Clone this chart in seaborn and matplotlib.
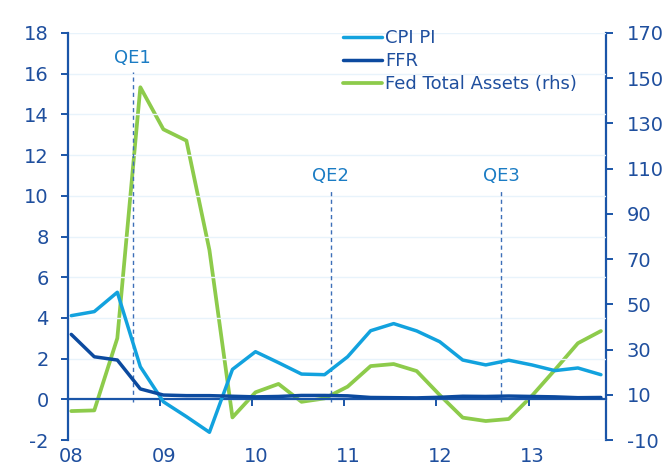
import numpy as np
import pandas as pd
import matplotlib
matplotlib.use("Agg")
import matplotlib.pyplot as plt
import matplotlib.transforms as mtransforms
import seaborn as sns

# ---- data (quarterly, 2008Q1 .. 2013Q4) ----
years = [2008, 2009, 2010, 2011, 2012, 2013]
tick_labels = ["08", "09", "10", "11", "12", "13"]
cpi_pi = [4.11, 4.31, 5.26, 1.60, -0.12, -0.85, -1.62, 1.47,
          2.34, 1.80, 1.24, 1.21, 2.09, 3.37, 3.72, 3.36,
          2.83, 1.93, 1.69, 1.92, 1.69, 1.41, 1.54, 1.21]
ffr = [3.19, 2.09, 1.93, 0.51, 0.21, 0.18, 0.18, 0.15,
       0.12, 0.14, 0.19, 0.19, 0.17, 0.09, 0.08, 0.07,
       0.10, 0.15, 0.14, 0.16, 0.14, 0.12, 0.08, 0.09]
fed_assets = [2.8, 3.1, 35.0, 146.0, 127.4, 122.4, 74.0, 0.0,
              11.1, 14.8, 6.9, 8.4, 13.6, 22.7, 23.6, 20.5,
              9.9, -0.1, -1.6, -0.7, 9.5, 21.0, 32.8, 38.2]
qe_labels = ["QE1", "QE2", "QE3"]
qe_dates = [2008.70, 2010.85, 2012.70]
qe_tops = [16.1, 10.3, 10.3]

quarter_offset = 0.035
xq = [years[0] + i / 4 + quarter_offset for i in range(len(cpi_pi))]
df = pd.DataFrame({"x": xq, "CPI PI": cpi_pi, "FFR": ffr, "Fed Total Assets (rhs)": fed_assets})

c_cpi = "#12a2de"
c_ffr = "#0c4a9f"
c_fed = "#8dcb4b"
c_txt = "#1f4f9e"
c_axis = "#1a55a8"
c_grid = "#e8f3fb"
c_qe = "#1b7cc4"

sns.set_theme(style="white")
plt.rcParams["font.family"] = ["DejaVu Sans"]

fig = plt.figure(figsize=(6.67, 4.70), dpi=100)
ax = fig.add_axes([0.102, 0.0638, 0.8065, 0.866])
ax2 = ax.twinx()

ax.set_ylim(-2, 18)
ax2.set_ylim(-10, 170)
ax.set_xlim(years[0], years[-1] + 0.84)

for yv in np.arange(-2, 19, 2):
    ax.axhline(yv, color=c_grid, lw=1.0, zorder=0)

sns.lineplot(data=df, x="x", y="CPI PI", ax=ax, color=c_cpi, lw=2.5, label="CPI PI", zorder=3)
sns.lineplot(data=df, x="x", y="FFR", ax=ax, color=c_ffr, lw=2.5, label="FFR", zorder=4)
sns.lineplot(data=df, x="x", y="Fed Total Assets (rhs)", ax=ax2, color=c_fed, lw=2.7,
             label="Fed Total Assets (rhs)", zorder=3)

# QE markers
for lab, d, top in zip(qe_labels, qe_dates, qe_tops):
    ax.plot([d, d], [-0.12, top], color="#3d6fb8", lw=1.0, ls=(0, (3, 2.5)), zorder=2)
    ax.text(d, top + 0.25, lab, color=c_qe, fontsize=13, ha="center", va="bottom")

# axes styling
for a in (ax, ax2):
    a.set_xlabel("")
    a.set_ylabel("")
    for s in ("top", "left", "right", "bottom"):
        a.spines[s].set_visible(False)
    a.grid(False)

ax.spines["left"].set_visible(True)
ax.spines["left"].set_color(c_axis)
ax.spines["left"].set_linewidth(1.6)
ax2.spines["right"].set_visible(True)
ax2.spines["right"].set_color(c_axis)
ax2.spines["right"].set_linewidth(1.6)
ax.spines["bottom"].set_visible(True)
ax.spines["bottom"].set_position(("data", 0))
ax.spines["bottom"].set_color(c_axis)
ax.spines["bottom"].set_linewidth(1.6)

ax.set_yticks(np.arange(-2, 19, 2))
ax.set_yticklabels([str(v) for v in range(-2, 19, 2)])
ax2.set_yticks(np.arange(-10, 171, 20))
ax2.set_yticklabels([str(v) for v in range(-10, 171, 20)])
ax.set_xticks(years)
ax.set_xticklabels(tick_labels)

ax.tick_params(axis="y", colors=c_axis, labelcolor=c_txt, labelsize=14, length=5, width=1.4,
               direction="out", left=True, pad=9)
ax2.tick_params(axis="y", colors=c_axis, labelcolor=c_txt, labelsize=14, length=5, width=1.4,
                direction="out", right=True, pad=10)
ax.tick_params(axis="x", colors=c_axis, labelcolor=c_txt, labelsize=14, length=5, width=1.4,
               direction="out", bottom=True, pad=29)
offset = mtransforms.ScaledTranslation(2.5 / 72, 0, fig.dpi_scale_trans)
for t in ax.get_xticklabels():
    t.set_transform(t.get_transform() + offset)

# legend
h1, l1 = ax.get_legend_handles_labels()
h2, l2 = ax2.get_legend_handles_labels()
if ax2.get_legend():
    ax2.get_legend().remove()
leg = ax.legend(h1 + h2, l1 + l2, loc="upper left", bbox_to_anchor=(0.497, 1.028),
                frameon=False, fontsize=13, handlelength=2.2, handletextpad=0.15,
                labelspacing=0.28, borderaxespad=0)
for t in leg.get_texts():
    t.set_color(c_txt)

ax.set_zorder(ax2.get_zorder() + 1)
ax.patch.set_visible(False)

fig.savefig("out.png", dpi=100)
